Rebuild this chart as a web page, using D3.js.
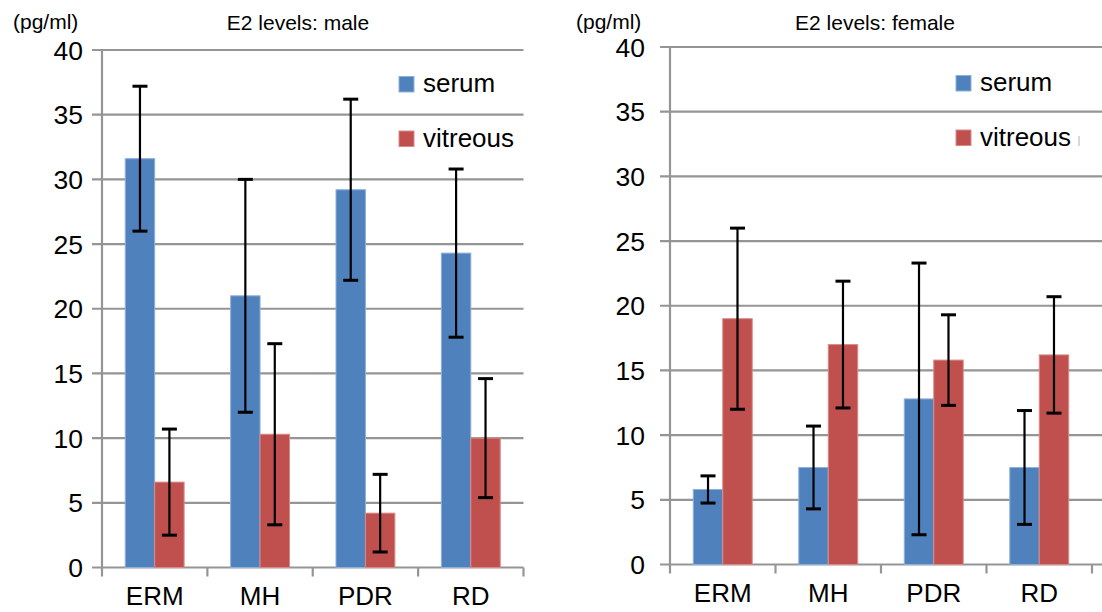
<!DOCTYPE html>
<html>
<head>
<meta charset="utf-8">
<script src="https://cdn.jsdelivr.net/npm/d3@7"></script>
<style>
  html, body { margin: 0; padding: 0; background: #fff; }
  svg { display: block; font-family: "Liberation Sans", Arial, sans-serif; }
</style>
</head>
<body>
<div id="chart"></div>
<script>
// E2 levels (pg/ml), mean and SD per diagnosis
const categories = ["ERM", "MH", "PDR", "RD"];
const seriesNames = ["serum", "vitreous"];
const yTicks = [0, 5, 10, 15, 20, 25, 30, 35, 40];

const maleSerum = [31.6, 21.0, 29.2, 24.3];
const maleSerumSD = [5.6, 9.0, 7.0, 6.5];
const maleVitreous = [6.6, 10.3, 4.2, 10.0];
const maleVitreousSD = [4.1, 7.0, 3.0, 4.6];

const femaleSerum = [5.8, 7.5, 12.8, 7.5];
const femaleSerumSD = [1.05, 3.2, 10.5, 4.4];
const femaleVitreous = [19.0, 17.0, 15.8, 16.2];
const femaleVitreousSD = [7.0, 4.9, 3.5, 4.5];

const colors = { serum: "#4f81bd", vitreous: "#c0504d" };
const edge = { serum: "#8fb0dc", vitreous: "#d98a88" };

const width = 1102, height = 612;
const svg = d3.select("#chart").append("svg")
    .attr("width", width)
    .attr("height", height);
svg.append("rect").attr("width", width).attr("height", height).attr("fill", "#fff");

function drawPanel(p) {
    const g = svg.append("g");

    const x = d3.scaleBand().domain(categories).range([p.left, p.right]).padding(0);
    const xs = d3.scaleBand().domain(seriesNames).range([0, x.bandwidth()])
        .paddingInner(0).paddingOuter(0.79);
    const y = d3.scaleLinear().domain([0, 40]).range([p.bottom, p.top]);

    // gridlines
    g.append("g").selectAll("line")
        .data(yTicks)
        .join("line")
        .attr("x1", p.left - 10)
        .attr("x2", p.gridEnd)
        .attr("y1", d => y(d))
        .attr("y2", d => y(d))
        .attr("stroke", "#959595")
        .attr("stroke-width", 2.2);

    // y axis line
    g.append("line")
        .attr("x1", p.left).attr("x2", p.left)
        .attr("y1", y(40)).attr("y2", p.bottom + 9)
        .attr("stroke", "#959595").attr("stroke-width", 2.2);

    // category ticks
    const edges = categories.map(c => x(c)).concat([p.right]);
    g.append("g").selectAll("line")
        .data(edges.slice(1))
        .join("line")
        .attr("x1", d => d).attr("x2", d => d)
        .attr("y1", p.bottom).attr("y2", p.bottom + 9)
        .attr("stroke", "#959595").attr("stroke-width", 2.2);

    // y tick labels
    g.append("g").selectAll("text")
        .data(yTicks)
        .join("text")
        .attr("x", p.tickLabelX)
        .attr("y", d => y(d))
        .attr("dy", "0.36em")
        .attr("text-anchor", "end")
        .style("font-size", "26.5px")
        .attr("fill", "#000")
        .text(d => d);

    // category labels
    g.append("g").selectAll("text")
        .data(categories)
        .join("text")
        .attr("x", d => x(d) + x.bandwidth() / 2)
        .attr("y", p.bottom + 37)
        .attr("text-anchor", "middle")
        .style("font-size", "26px")
        .attr("fill", "#000")
        .text(d => d);

    // bars
    const rows = [];
    categories.forEach((c, i) => {
        rows.push({ cat: c, s: "serum", v: p.serum[i], sd: p.serumSD[i] });
        rows.push({ cat: c, s: "vitreous", v: p.vitreous[i], sd: p.vitreousSD[i] });
    });

    g.append("g").selectAll("rect")
        .data(rows)
        .join("rect")
        .attr("x", d => x(d.cat) + xs(d.s))
        .attr("y", d => y(d.v))
        .attr("width", xs.bandwidth())
        .attr("height", d => y(0) - y(d.v))
        .attr("fill", d => colors[d.s])
        .attr("stroke", d => edge[d.s])
        .attr("stroke-width", 1);

    // error bars
    const eb = g.append("g").selectAll("g")
        .data(rows)
        .join("g")
        .attr("transform", d => `translate(${x(d.cat) + xs(d.s) + xs.bandwidth() / 2},0)`);
    eb.append("line")
        .attr("y1", d => y(d.v + d.sd))
        .attr("y2", d => y(d.v - d.sd))
        .attr("stroke", "#000").attr("stroke-width", 2.2);
    eb.selectAll(".cap")
        .data(d => [d.v + d.sd, d.v - d.sd])
        .join("line")
        .attr("class", "cap")
        .attr("x1", -7.5).attr("x2", 7.5)
        .attr("y1", d => y(d)).attr("y2", d => y(d))
        .attr("stroke", "#000").attr("stroke-width", 3);

    // titles
    g.append("text")
        .attr("x", p.titleX).attr("y", 30)
        .attr("text-anchor", "middle")
        .style("font-size", "21px")
        .text(p.title);
    g.append("text")
        .attr("x", p.unitX).attr("y", 29)
        .style("font-size", "21px")
        .text("(pg/ml)");

    // legend
    const lg = g.append("g").selectAll("g")
        .data(seriesNames)
        .join("g")
        .attr("transform", (d, i) => `translate(${p.legendX},${p.legendY + i * 54.5})`);
    lg.append("rect")
        .attr("x", 0).attr("y", -15.5)
        .attr("width", 15).attr("height", 15.5)
        .attr("fill", d => colors[d])
        .attr("stroke", d => edge[d]).attr("stroke-width", 1);
    lg.append("text")
        .attr("x", 24).attr("y", 0)
        .style("font-size", "26px")
        .text(d => d);
}

drawPanel({
    left: 102, right: 523.5, top: 50, bottom: 567.5, gridEnd: 523.5,
    tickLabelX: 83, titleX: 298, unitX: 13,
    legendX: 399, legendY: 92,
    title: "E2 levels: male",
    serum: maleSerum, serumSD: maleSerumSD,
    vitreous: maleVitreous, vitreousSD: maleVitreousSD
});

drawPanel({
    left: 670, right: 1092, top: 47, bottom: 564.5, gridEnd: 1102,
    tickLabelX: 645, titleX: 875, unitX: 576,
    legendX: 956, legendY: 91,
    title: "E2 levels: female",
    serum: femaleSerum, serumSD: femaleSerumSD,
    vitreous: femaleVitreous, vitreousSD: femaleVitreousSD
});

// faint cut-off mark at the right edge of the female legend
svg.append("rect")
    .attr("x", 1078).attr("y", 136)
    .attr("width", 2).attr("height", 10)
    .attr("fill", "#d8d8d8");
</script>
</body>
</html>
